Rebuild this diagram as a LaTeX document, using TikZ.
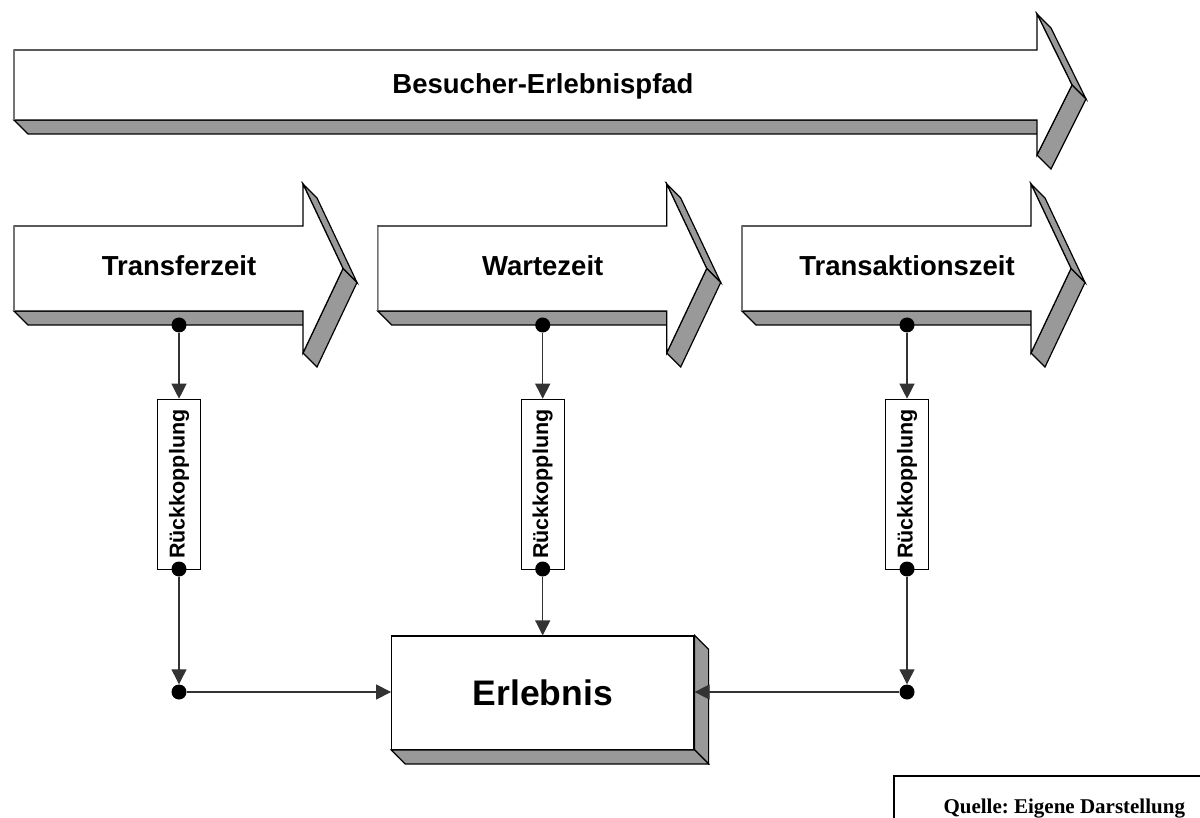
\documentclass[tikz,border=0pt]{standalone}
\usepackage{fontspec}
\setmainfont{Liberation Sans}
\newfontfamily\srcfont{Liberation Serif}
\usetikzlibrary{arrows.meta}
\frenchspacing

\definecolor{shade}{gray}{0.6}
\definecolor{wire}{gray}{0.2}
\definecolor{litedge}{gray}{0.45}

\tikzset{
  face/.style={draw=black, line width=1.2pt, line join=miter, fill=white},
  side/.style={draw=black, line width=1.2pt, line join=miter, fill=shade},
  lightedge/.style={draw=litedge, line width=1.2pt},
  lbl/.style={font=\fontsize{27.5}{33}\selectfont\bfseries, anchor=base, inner sep=0pt},
  dot/.style={circle, fill=black, inner sep=0pt, minimum size=15pt},
  fbbox/.style={draw=black, fill=white, line width=1pt, rotate=90, inner sep=0pt,
    minimum width=170pt, minimum height=43.4pt,
    font=\fontsize{21.5}{25}\selectfont\bfseries},
  conn/.style={draw=wire, line width=1.2pt, -{Triangle[length=15pt,width=15pt]}},
}

% extruded block arrow:
% #1 left, #2 body top, #3 body bottom, #4 head base x,
% #5 head top, #6 head bottom, #7 tip x, #8 tip y  (depth 14)
\newcommand{\blockarrow}[8]{%
  \filldraw[side] (#1,#3) -- (#4,#3) -- (#4+14,#3+14) -- (#1+14,#3+14) -- cycle;
  \filldraw[side] (#4,#5) -- (#7,#8) -- (#7+14,#8+14) -- (#4+14,#5+14) -- cycle;
  \filldraw[side] (#7,#8) -- (#4,#6) -- (#4+14,#6+14) -- (#7+14,#8+14) -- cycle;
  \filldraw[face] (#1,#2) -- (#4,#2) -- (#4,#5) -- (#7,#8) -- (#4,#6) -- (#4,#3) -- (#1,#3) -- cycle;
  \draw[lightedge] (#1,#3) -- (#1,#2);
}

\begin{document}
\begin{tikzpicture}[x=1pt, y=-1pt]
  \useasboundingbox (0,0) rectangle (1200,818);
  \fill[white] (0,0) rectangle (1200,818);
  \clip (0,0) rectangle (1200,818);

  % overall path
  \blockarrow{14}{50}{120}{1037}{14}{155}{1072}{85}
  \node[lbl] (path) at (543,93.3) {Besucher-Erlebnispfad};

  % three phases
  \blockarrow{14}{226}{311}{303}{184}{353}{343}{268.5}
  \blockarrow{377.7}{226}{311}{666.7}{184}{353}{706.7}{268.5}
  \blockarrow{742}{226}{311}{1031}{184}{353}{1071}{268.5}
  \node[lbl] (transfer) at (179,276) {Transferzeit};
  \node[lbl] (warte) at (542.7,276) {Wartezeit};
  \node[lbl] (transakt) at (907,276) {Transaktionszeit};

  % experience block
  \node[draw=black, fill=white, line width=1.2pt, inner sep=0pt,
        minimum width=302.3pt, minimum height=113.3pt,
        font=\fontsize{35.5}{40}\selectfont\bfseries] (erl) at (542.85,692.65) {Erlebnis};
  \filldraw[side] (erl.north east) -- ++(14,14) -- ([shift={(14,14)}]erl.south east) -- (erl.south east) -- cycle;
  \filldraw[side] (erl.south west) -- (erl.south east) -- ++(14,14) -- ([shift={(14,14)}]erl.south west) -- cycle;

  % feedback boxes
  \node[fbbox] (fb1) at (179,484.2) {Rückkopplung};
  \node[fbbox] (fb2) at (542.7,484.2) {Rückkopplung};
  \node[fbbox] (fb3) at (907,484.2) {Rückkopplung};

  % junction dots
  \node[dot] (t1) at (179,325) {};
  \node[dot] (t2) at (542.7,325) {};
  \node[dot] (t3) at (907,325) {};
  \node[dot] (b1) at (179,569) {};
  \node[dot] (b2) at (542.7,569) {};
  \node[dot] (b3) at (907,569) {};
  \node[dot] (c1) at (179,692) {};
  \node[dot] (c3) at (907,692) {};

  % connectors
  \draw[conn] (t1) -- (fb1);
  \draw[conn] (t2) -- (fb2);
  \draw[conn] (t3) -- (fb3);
  \draw[conn] (b1) -- (c1);
  \draw[conn] (b3) -- (c3);
  \draw[conn] (b2) -- (b2 |- erl.north);
  \draw[conn] (c1) -- (c1 -| erl.west);
  \draw[conn] (c3) -- (c3 -| erl.east);

  % source note
  \node[draw=black, line width=1.5pt, anchor=north west, inner sep=0pt,
        minimum width=341pt, minimum height=66pt,
        font=\srcfont\fontsize{21}{25}\selectfont\bfseries] (src) at (893,775) {Quelle: Eigene Darstellung};
\end{tikzpicture}
\end{document}
